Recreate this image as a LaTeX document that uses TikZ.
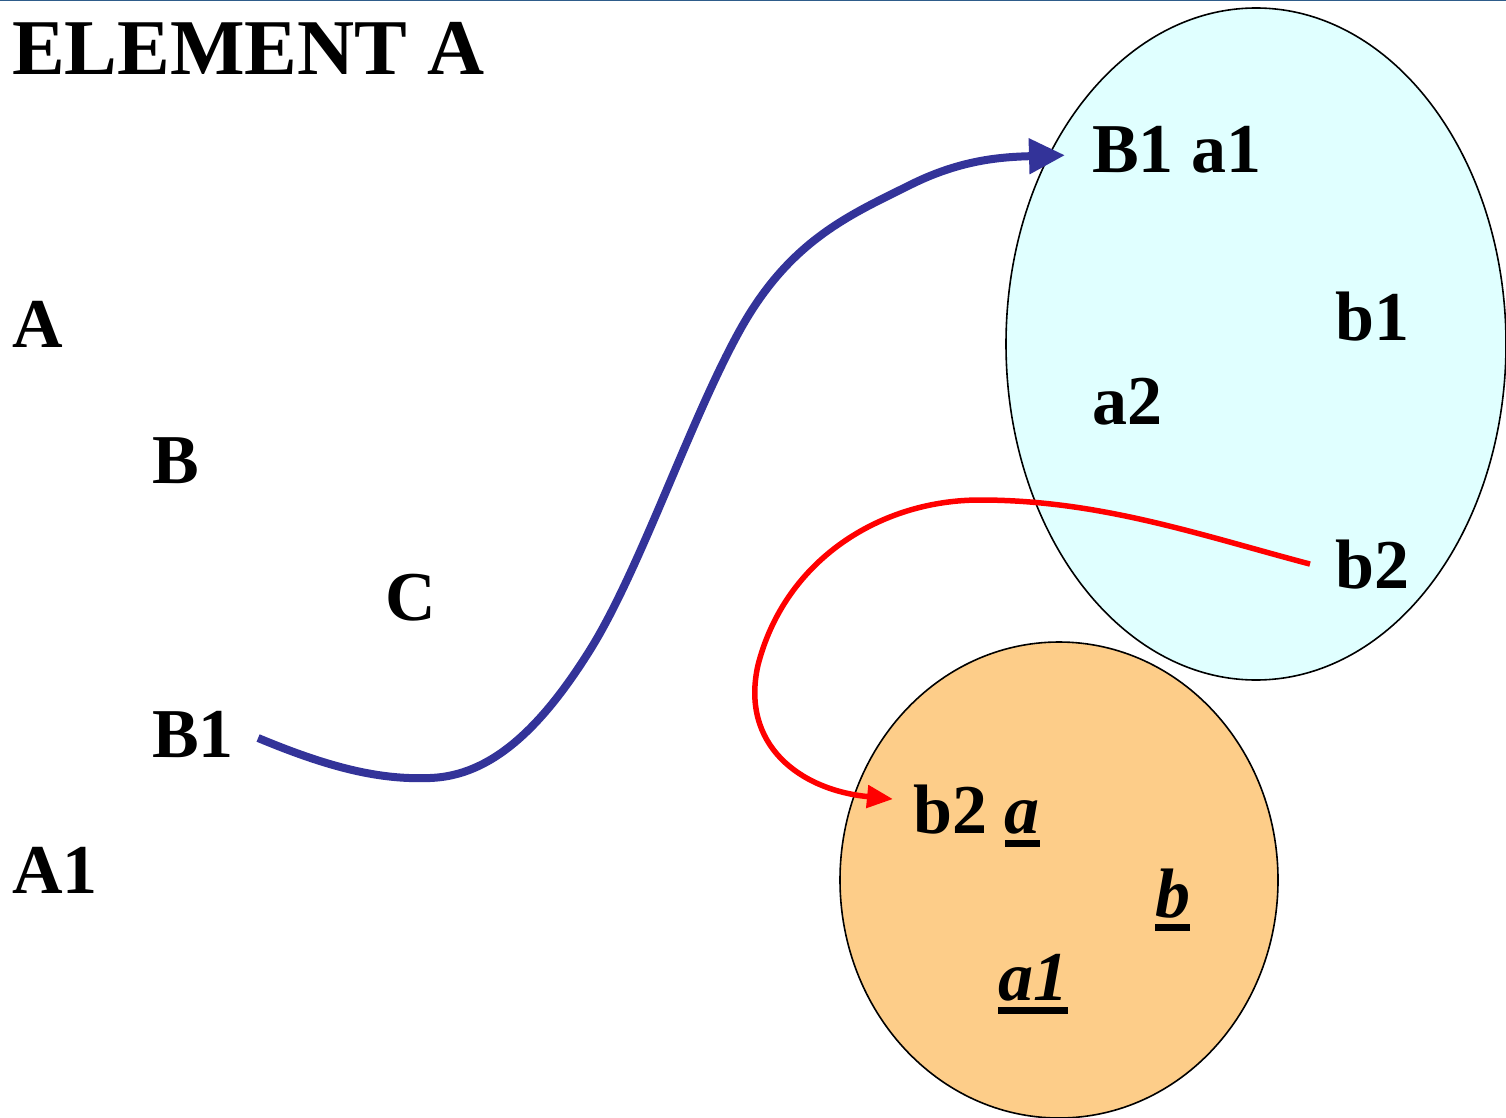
\documentclass[tikz,border=0pt]{standalone}
\usepackage{fontspec}
\setmainfont{Liberation Serif}
\usetikzlibrary{arrows.meta,calc}
\definecolor{topline}{HTML}{2E5C8A}
\definecolor{cyanfill}{HTML}{E0FFFF}
\definecolor{orangefill}{HTML}{FDCD89}
\definecolor{arrowblue}{HTML}{333399}
\newcommand\ulbox[1]{\setbox0\hbox{#1}\rlap{\smash{\rule[-14pt]{\wd0}{7pt}}}\box0}
\begin{document}
\begin{tikzpicture}[x=1pt,y=-1pt,
  lbl/.style={inner sep=0pt,anchor=base west,font=\fontsize{70}{70}\selectfont\bfseries},
  ttl/.style={inner sep=0pt,anchor=base west,font=\fontsize{79}{79}\selectfont\bfseries},
  blob/.style={draw=black,line width=1.6pt}]
\useasboundingbox (0,0) rectangle (1506,1118);
\draw[topline,line width=2pt] (0,0.5) -- (1506,0.5);
% shapes
\fill[cyanfill] (1256,344) ellipse [x radius=250,y radius=336];
\draw[blob] (1256,344) ellipse [x radius=250,y radius=336];
\fill[orangefill] (1059,880) ellipse [x radius=219,y radius=238];
\draw[blob] (1059,880) ellipse [x radius=219,y radius=238];
% texts
\node[ttl] (title) at (12,75) {ELEMENT A};
\node[lbl] (A) at (12,347) {A};
\node[lbl] (B) at (152,483) {B};
\node[lbl] (C) at (385,620) {C};
\node[lbl] (B1) at (152,757) {B1};
\node[lbl] (A1) at (12,893) {A1};
\node[lbl] (Ba) at (1092,172) {B1 a1};
\node[lbl] (b1) at (1335,340) {b1};
\node[lbl] (a2) at (1092,424) {a2};
\node[lbl] (b2) at (1335,588) {b2};
\node[lbl] (b2a) at (913,833) {b2 \ulbox{\itshape a}};
\node[lbl] (bb) at (1155,917) {\ulbox{\itshape b}};
\node[lbl] (a1u) at (998,1000) {\ulbox{\itshape a1}};
% connectors
\draw[arrowblue,line width=8pt,-{Triangle[length=36pt,width=34pt]}]
  ($(B1.east)+(24,4)$) .. controls (330,768) and (380,780) .. (430,778)
  .. controls (490,776) and (540,730) .. (590,650)
  .. controls (640,570) and (690,420) .. (740,330)
  .. controls (790,240) and (850,215) .. (910,185)
  .. controls (960,160) and (1000,157) .. ($(Ba.west)+(-27,6)$);
\draw[red,line width=5.5pt,-{Triangle[length=26pt,width=22pt]}]
  ($(b2.west)+(-25,0)$) .. controls (1200,535) and (1100,500) .. (980,500)
  .. controls (880,500) and (785,560) .. (758,665)
  .. controls (740,745) and (800,790) .. ($(b2a.west)+(-20,-10)$);
\end{tikzpicture}
\end{document}
